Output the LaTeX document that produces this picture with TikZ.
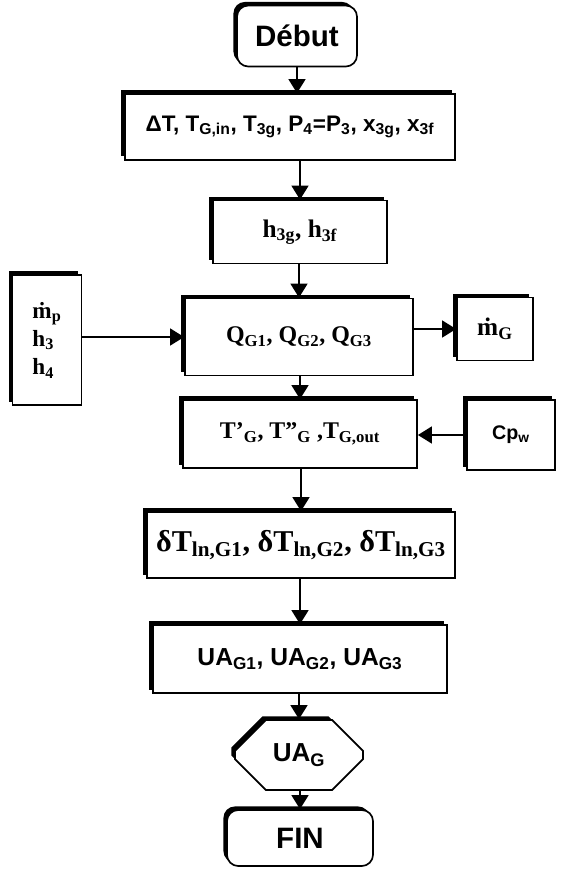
\documentclass[tikz,border=0pt]{standalone}
\usepackage{fontspec}
\setmainfont{Liberation Sans}
\newfontfamily\serifgras{Liberation Serif}
\usetikzlibrary{shapes.misc,shadows,arrows.meta}
\newcommand{\ind}[1]{\textsubscript{#1}}

\begin{document}
\begin{tikzpicture}[x=0.025cm,y=-0.025cm,
	boite/.style={draw,line width=1.2pt,fill=white,inner sep=0pt,
		drop shadow={shadow xshift=-2.5pt,shadow yshift=2.5pt,opacity=1,fill=black}},
	arrondi/.style={boite,rounded corners=8pt},
	octo/.style={boite,chamfered rectangle,chamfered rectangle xsep=14pt,
		chamfered rectangle ysep=14pt},
	fleche/.style={line width=1.5pt,-{Triangle[width=12pt,length=10pt]}}]
	\useasboundingbox (0,0) rectangle (560,869);
	% boites du calcul
	\node[arrondi, minimum width=3cm, minimum height=1.525cm, font=\fontsize{21}{24}\bfseries] (debut) at (297,36) {Début};
	\node[boite, minimum width=8.25cm, minimum height=1.65cm, font=\fontsize{16}{19}\bfseries] (donnees) at (290,127)
		{ΔT, T\ind{G,in}, T\ind{3g}, P\ind{4}=P\ind{3}, x\ind{3g}, x\ind{3f}};
	\node[boite, minimum width=4.35cm, minimum height=1.575cm, font=\serifgras\fontsize{18}{20}\bfseries] (hvap) at (300,232) {h\ind{3g}, h\ind{3f}};
	\node[boite, minimum width=5.7cm, minimum height=1.925cm, font=\serifgras\fontsize{17}{20}\bfseries] (chaleur) at (299,337)
		{Q\ind{G1}, Q\ind{G2}, Q\ind{G3}};
	\node[boite, minimum width=1.725cm, minimum height=3.25cm, align=left, font=\serifgras\fontsize{16.5}{20}\bfseries] (entree) at (47,340)
		{ṁ\ind{p}\\h\ind{3}\\h\ind{4}};
	\node[boite, minimum width=1.9cm, minimum height=1.575cm, font=\serifgras\fontsize{18}{20}\bfseries] (debitG) at (495,329) {ṁ\ind{G}};
	\node[boite, minimum width=5.85cm, minimum height=1.7cm, font=\serifgras\fontsize{17}{20}\bfseries] (temp) at (300,434)
		{T’\ind{G}, T”\ind{G} ,T\ind{G,out}};
	\node[boite, minimum width=2.2cm, minimum height=1.75cm, font=\fontsize{14}{17}\bfseries] (cpw) at (511,435) {Cp\ind{w}};
	\node[boite, minimum width=7.7cm, minimum height=1.65cm, font=\serifgras\fontsize{21.5}{24}\bfseries] (dtln) at (301,545)
		{δT\ind{ln,G1}, δT\ind{ln,G2}, δT\ind{ln,G3}};
	\node[boite, minimum width=7.35cm, minimum height=1.7cm, font=\fontsize{17.5}{20}\bfseries] (ua) at (300,659)
		{UA\ind{G1}, UA\ind{G2}, UA\ind{G3}};
	\node[octo, minimum width=3.2cm, minimum height=1.75cm, font=\fontsize{18.5}{21}\bfseries] (uag) at (299,755) {UA\ind{G}};
	\node[arrondi, minimum width=3.65cm, minimum height=1.4cm, font=\fontsize{21}{24}\bfseries] (fin) at (300,838) {FIN};
	% fleches
	\draw[fleche] (debut.south) -- (debut.south |- donnees.north);
	\draw[fleche] (donnees.south -| hvap) -- (hvap.north);
	\draw[fleche] (hvap.south -| chaleur) -- (chaleur.north);
	\draw[fleche] (entree.east |- chaleur) -- (chaleur.west);
	\draw[fleche] (chaleur.east |- debitG) -- (debitG.west);
	\draw[fleche] (chaleur.south -| temp) -- (temp.north);
	\draw[fleche] (cpw.west) -- (cpw.west -| temp.east);
	\draw[fleche] (temp.south -| dtln) -- (dtln.north);
	\draw[fleche] (dtln.south -| ua) -- (ua.north);
	\draw[fleche] (ua.south -| uag) -- (uag.north);
	\draw[fleche] (uag.south -| fin) -- (fin.north);
\end{tikzpicture}
\end{document}
